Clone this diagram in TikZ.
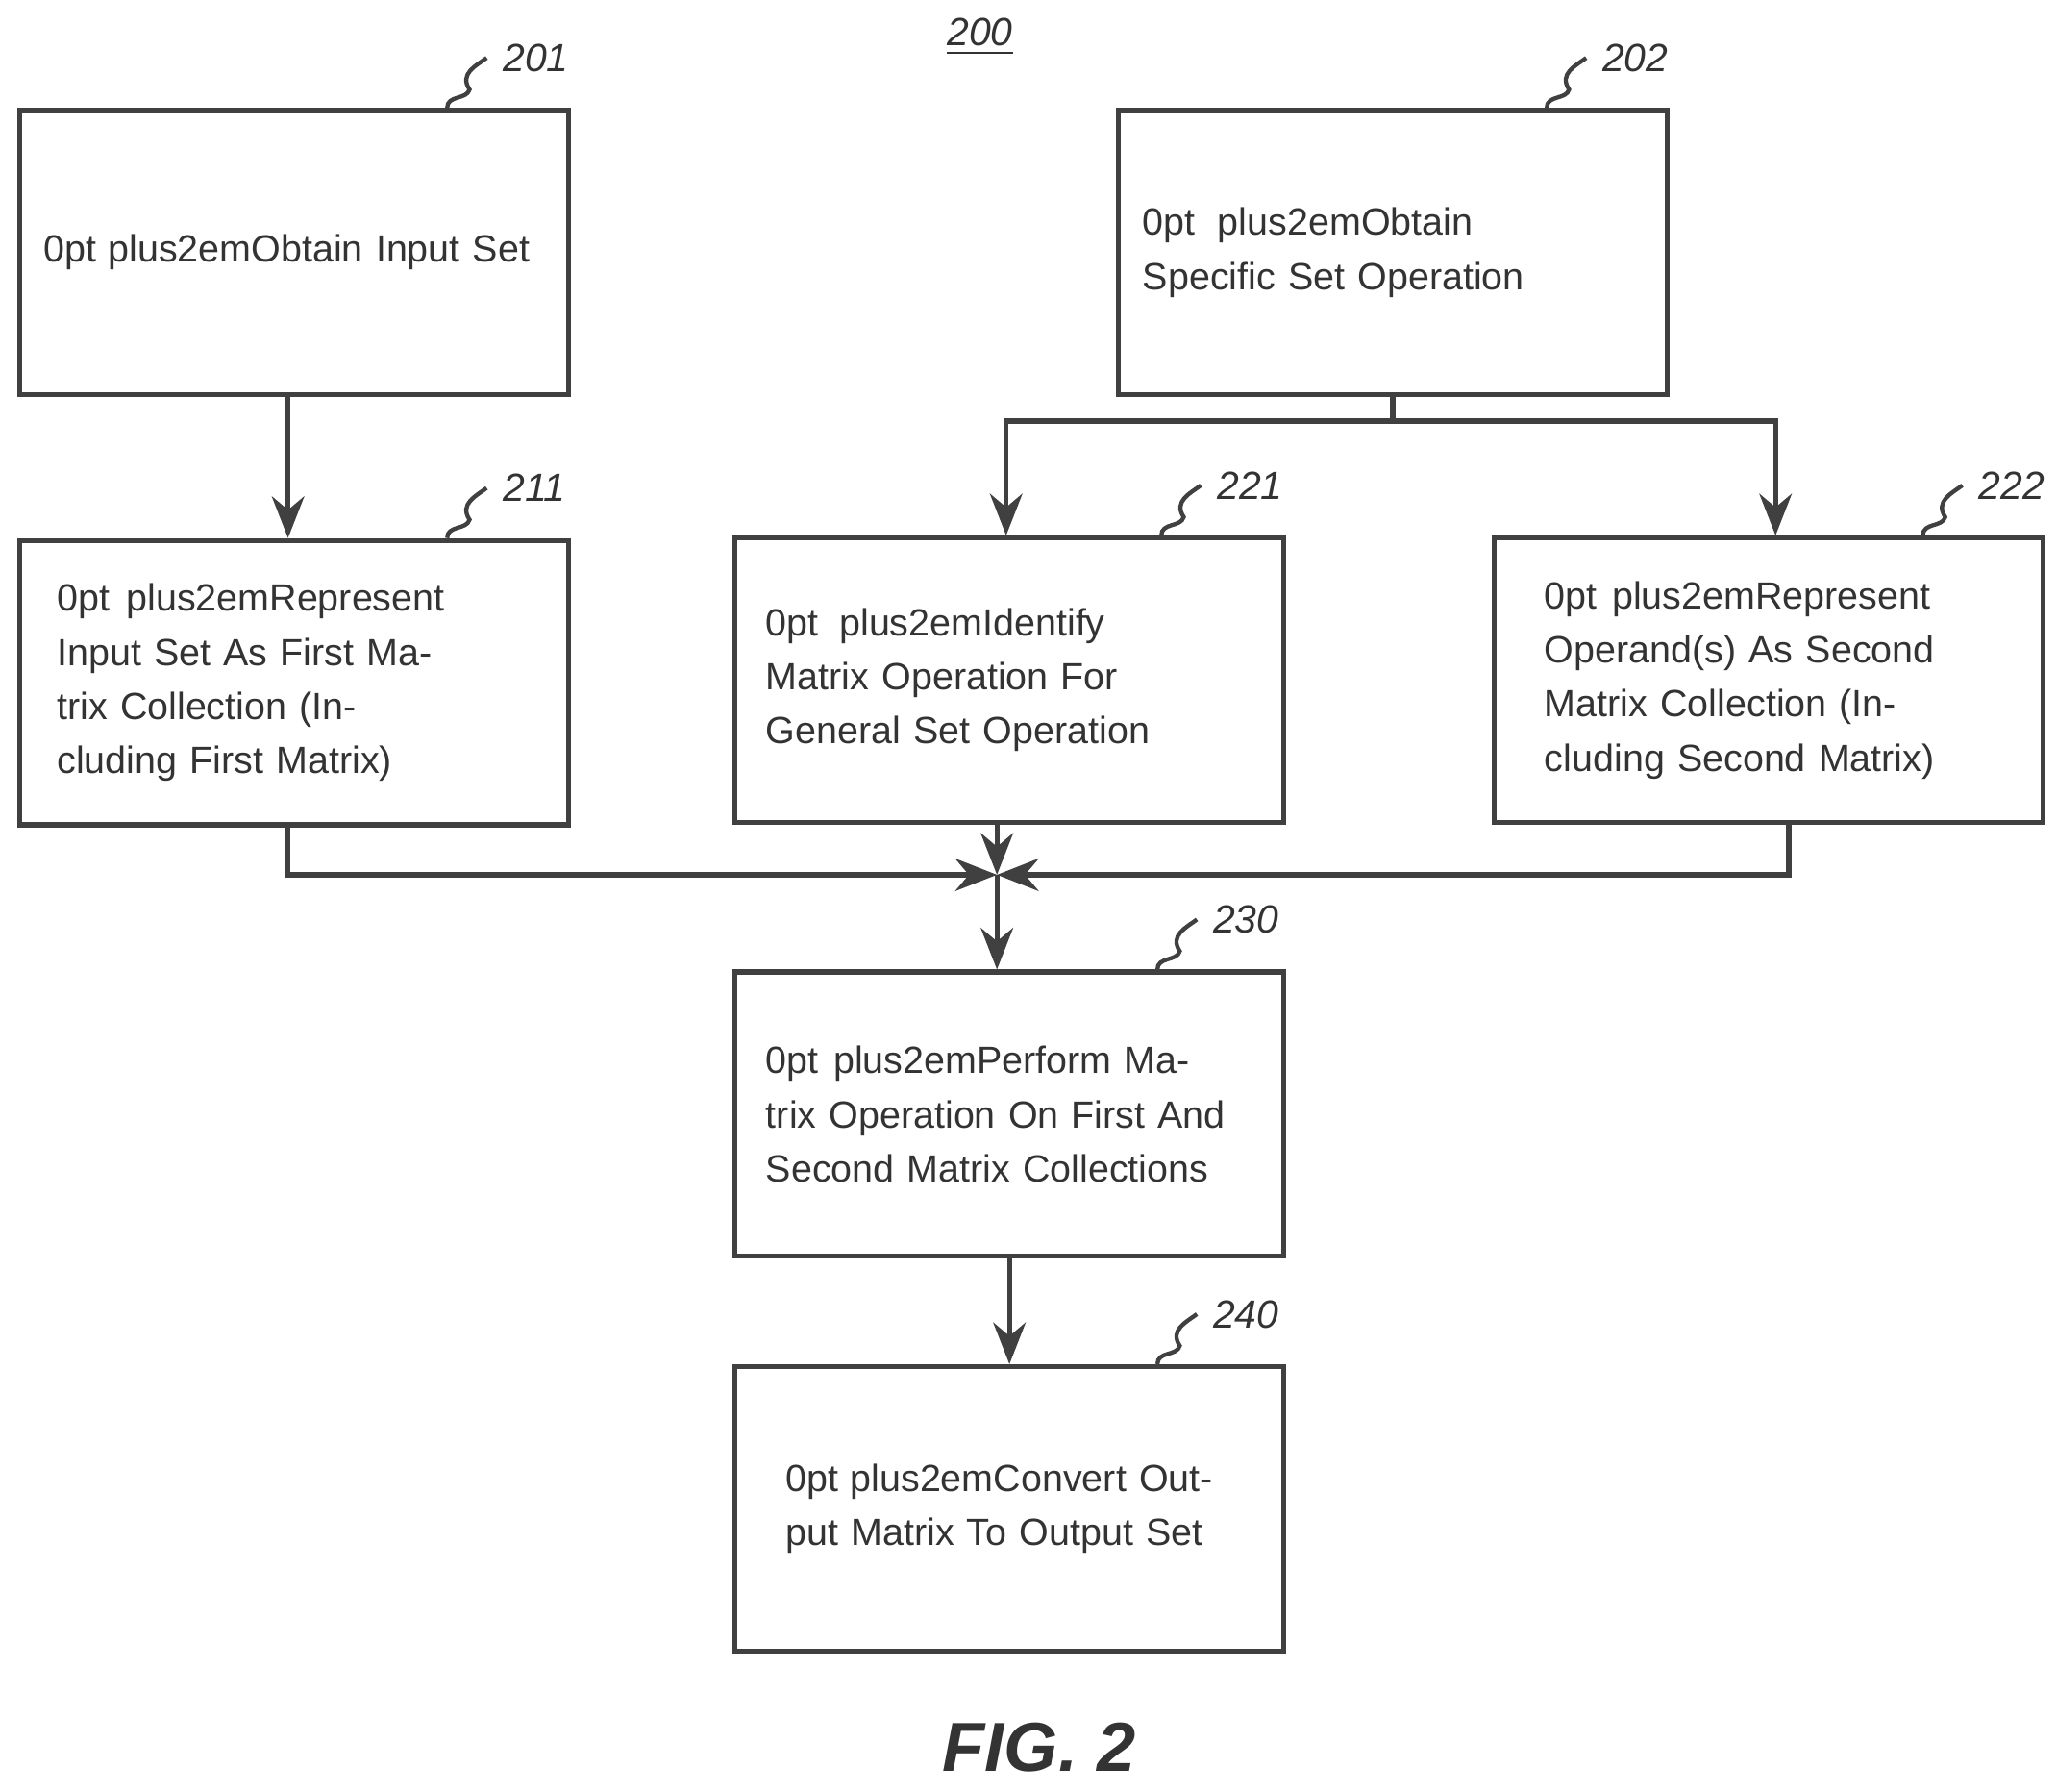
\documentclass[tikz,border=0pt]{standalone}
\usepackage{fontspec}
\setmainfont{Liberation Sans}
\usetikzlibrary{arrows.meta}
\begin{document}
\begin{tikzpicture}[x=0.01cm,y=-0.01cm,
  box/.style={draw=black!75,line width=1.1pt,minimum width=4.17cm,minimum height=2.16cm,
    align=center,text width=3.8cm,font=\fontsize{8.2}{11.7}\selectfont\hyphenpenalty=10000,text=black!80},
  ref/.style={font=\itshape\fontsize{8.5}{10}\selectfont,text=black!80},
  flow/.style={draw=black!75,line width=1.1pt,-{Stealth[length=9pt,width=7pt]}},
  lead/.style={draw=black!75,line width=0.9pt}]

  \useasboundingbox (0,0) rectangle (1564,1362);

  \node (N200) at (745,28) [ref] {\underline{200}};

  \node (B201) at (223.5,192) [box] {Obtain Input Set};
  \node (B202) at (1059,192) [box] {Obtain Specific Set Operation};
  \node (B211) at (223.5,519) [box,text width=3.6cm] {Represent Input Set As First Matrix Collection (Including First Matrix)};
  \node (B221) at (767.5,517) [box,text width=3.7cm] {Identify Matrix Operation For General Set Operation};
  \node (B222) at (1344.5,517) [box,text width=3.4cm] {Represent Operand(s) As Second Matrix Collection (Including Second Matrix)};
  \node (B230) at (767.5,847) [box,text width=3.7cm] {Perform Matrix Operation On First And Second Matrix Collections};
  \node (B240) at (767.5,1147) [box,text width=3.4cm] {Convert Output Matrix To Output Set};

  % reference numerals with lead lines
  \foreach \b/\n/\x in {B201/201/340,B202/202/1176,B211/211/340,B221/221/883,B222/222/1462,B230/230/880,B240/240/880} {
    \node (L\n) at ([xshift=0.3cm,yshift=0.38cm]\b.north -| \x,0) [ref,anchor=west] {\n};
    \draw[lead] (\b.north -| \x,0) .. controls +(0,-10) and +(-2,8) .. +(17,-14)
      .. controls +(-8,-12) and +(-8,6) .. (L\n.west);
  }

  \coordinate (J) at (758,665);
  \coordinate (S) at (1059,320);

  \draw[flow] (B201.south -| 219,0) -- (B211.north -| 219,0);
  \draw[line width=1.1pt,draw=black!75] (B202.south) -- (S);
  \draw[flow] (S) -| (B221.north -| 765,0);
  \draw[flow] (S) -| (B222.north -| 1350,0);
  \draw[flow] (B211.south -| 219,0) |- (J);
  \draw[flow] (B222.south -| 1360,0) |- (J);
  \draw[flow] (B221.south -| J) -- (J);
  \draw[flow] (J) -- (B230.north -| J);
  \draw[flow] (B230.south) -- (B240.north);

  \node (FIG) at (790,1328) [font=\bfseries\itshape\fontsize{15}{17}\selectfont,text=black!80] {FIG. 2};
\end{tikzpicture}
\end{document}
